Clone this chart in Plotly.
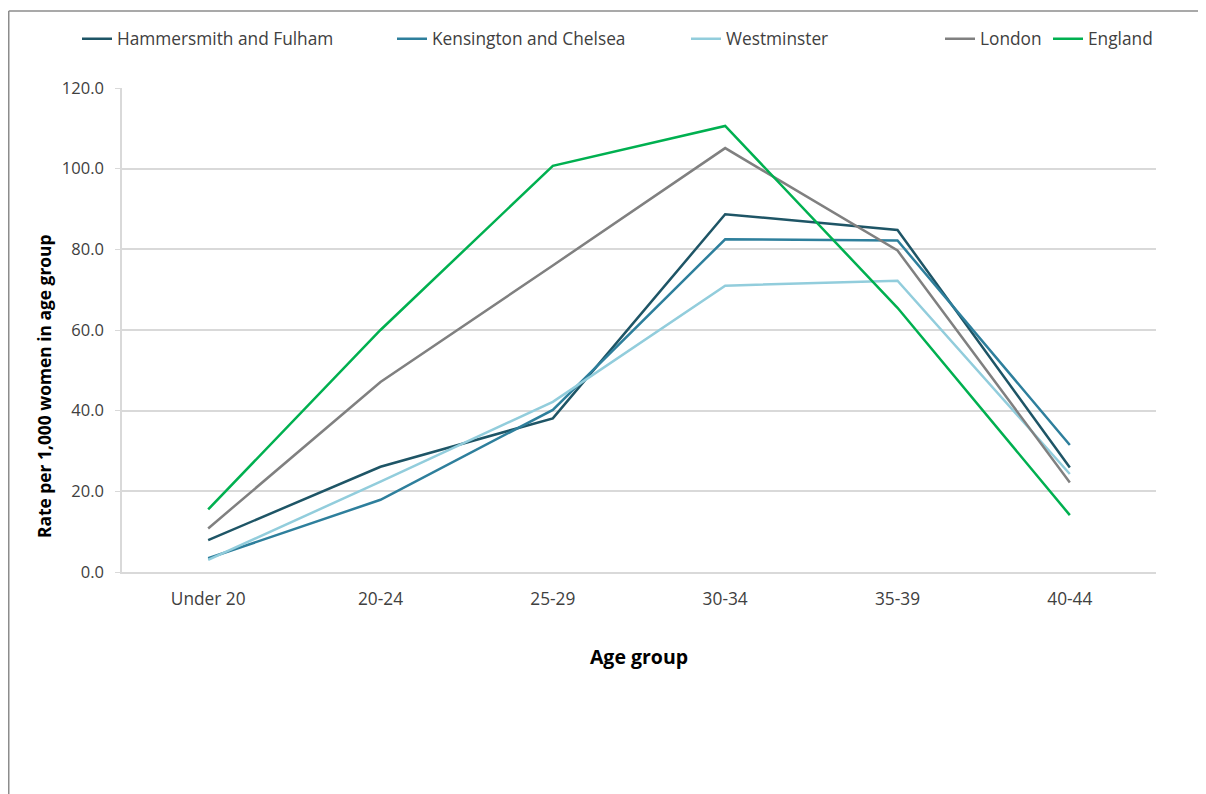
import plotly.graph_objects as go

categories = ["Under 20", "20-24", "25-29", "30-34", "35-39", "40-44"]
hammersmith_fulham = [7.9, 26.1, 38.1, 88.7, 84.8, 25.9]
kensington_chelsea = [3.4, 17.9, 40.2, 82.5, 82.2, 31.5]
westminster = [3.0, 22.4, 42.2, 71.0, 72.2, 24.3]
london = [10.8, 47.1, 76.0, 105.1, 79.7, 22.2]
england = [15.5, 60.0, 100.7, 110.6, 65.5, 14.1]
y_ticks = [0, 20, 40, 60, 80, 100, 120]

# page offset (body margin) is 8px
OFF = 8
series = [
    ("Hammersmith and Fulham", hammersmith_fulham, "#1e5566", "legend", 77),
    ("Kensington and Chelsea", kensington_chelsea, "#2e7f9c", "legend2", 392),
    ("Westminster", westminster, "#92cddc", "legend3", 686),
    ("London", london, "#808080", "legend4", 940),
    ("England", england, "#00b050", "legend5", 1048),
]

FONT = "Open Sans, Liberation Sans, Arial, sans-serif"
W, H = 1206 - OFF, 794 - OFF
# target plot area on page: x 122..1156, y 88..572
L = 122 - OFF
T = 88 - OFF
R = W - (1156 - OFF)
B = H - (572 - OFF)

fig = go.Figure()
layout_legends = {}
for name, vals, color, leg, lx in series:
    fig.add_trace(go.Scatter(
        x=categories, y=vals, mode="lines", name=name,
        line=dict(color=color, width=2.5), legend=leg, showlegend=True,
    ))
    layout_legends[leg] = dict(
        x=(lx - OFF) / W, xref="container", xanchor="left",
        y=1 - (39 - OFF) / H, yref="container", yanchor="middle",
        orientation="h", bgcolor="rgba(0,0,0,0)", borderwidth=0,
        font=dict(family=FONT, size=17.3, color="#404040"),
        itemwidth=30,
    )

pw = W - L - R
ph = H - T - B
frame_x = (8 - OFF + 0.75 - L) / pw
frame_top = (H - B - (11 - OFF)) / ph
frame_bottom = -(H + 20 - T - ph) / ph
frame_right = (W + 20 - L) / pw
fig.add_shape(type="line", xref="paper", yref="paper",
              x0=frame_x, x1=frame_right, y0=frame_top, y1=frame_top,
              line=dict(color="#8c8c8c", width=1.5), layer="below")
fig.add_shape(type="line", xref="paper", yref="paper",
              x0=frame_x, x1=frame_x, y0=frame_bottom, y1=frame_top,
              line=dict(color="#8c8c8c", width=1.5), layer="below")

fig.add_annotation(
    text="<b>Rate per 1,000 women in age group</b>", textangle=-90,
    xref="paper", yref="paper",
    x=(44 - OFF - L) / pw, y=(572 - 386) / ph,
    xanchor="center", yanchor="middle", showarrow=False,
    font=dict(family=FONT, size=17.4, color="#000000"),
)

fig.update_layout(
    width=W, height=H,
    margin=dict(l=L, r=R, t=T, b=B),
    paper_bgcolor="white", plot_bgcolor="white",
    showlegend=True,
    font=dict(family=FONT, size=16, color="#404040"),
    **layout_legends,
)

fig.update_xaxes(
    type="category", range=[-0.5, 5.5],
    showgrid=False, showline=True, linecolor="#d9d9d9", linewidth=2,
    ticks="", ticklabelstandoff=10,
    tickfont=dict(family=FONT, size=17.3, color="#404040"),
    title=dict(text="<b>Age group</b>", font=dict(family=FONT, size=19.5, color="#000000"), standoff=42),
    zeroline=False,
)
fig.update_yaxes(
    range=[0, 120], tickvals=y_ticks, ticktext=[f"{v:.1f}" for v in y_ticks],
    showgrid=True, gridcolor="#d9d9d9", gridwidth=2,
    showline=True, linecolor="#d9d9d9", linewidth=1.5,
    ticks="outside", ticklen=5, tickcolor="#d9d9d9", ticklabelstandoff=8,
    tickfont=dict(family=FONT, size=16.5, color="#404040"),
    zeroline=False,
)

fig.write_html("out.html")
